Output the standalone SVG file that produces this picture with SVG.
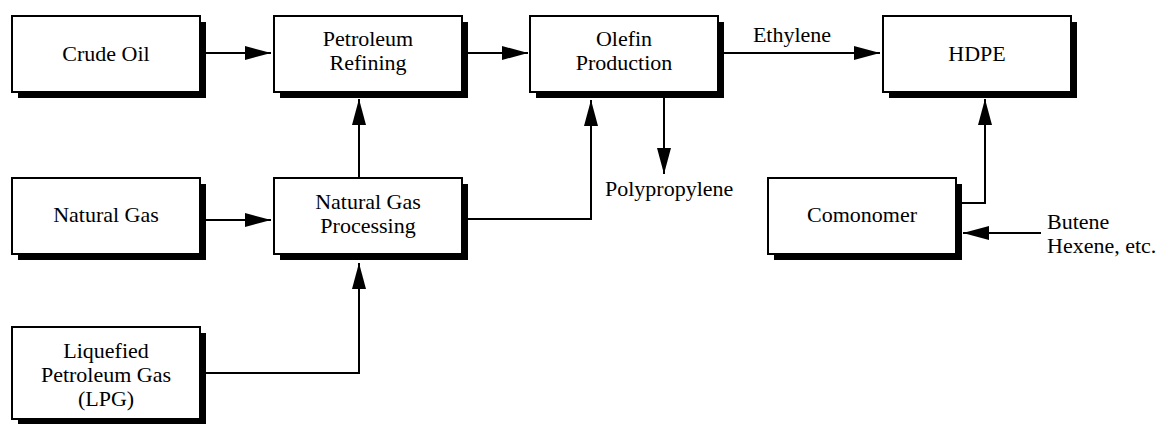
<svg xmlns="http://www.w3.org/2000/svg" width="1160" height="424" viewBox="0 0 1160 424" font-family="Liberation Serif, Times New Roman, Times, serif">
<style>
.box{fill:#fff;stroke:#000;stroke-width:2}
.sh{fill:#000}
.t{font-family:'Liberation Serif','Times New Roman',Times,serif;font-size:22px;fill:#000}
.m{text-anchor:middle}
.c{fill:none;stroke:#000;stroke-width:2}
</style>
<defs>
<marker id="ah" markerUnits="userSpaceOnUse" markerWidth="27" markerHeight="15" refX="26" refY="7" orient="auto">
<path d="M0,0 L26,7 L0,14 z" fill="#000"/>
</marker>
</defs>
<rect width="1160" height="424" fill="#fff"/>
<g id="crude-oil">
<rect class="sh" x="18" y="22" width="188" height="76"/>
<rect class="box" x="12" y="16" width="188" height="76"/>
<text class="t m" x="106" y="61">Crude Oil</text>
</g>
<g id="petroleum-refining">
<rect class="sh" x="280" y="22" width="188" height="76"/>
<rect class="box" x="274" y="16" width="188" height="76"/>
<text class="t m" x="368" y="46">Petroleum</text>
<text class="t m" x="368" y="70">Refining</text>
</g>
<g id="olefin-production">
<rect class="sh" x="536" y="22" width="188" height="76"/>
<rect class="box" x="530" y="16" width="188" height="76"/>
<text class="t m" x="624" y="46">Olefin</text>
<text class="t m" x="624" y="70">Production</text>
</g>
<g id="hdpe">
<rect class="sh" x="889" y="22" width="188" height="76"/>
<rect class="box" x="883" y="16" width="188" height="76"/>
<text class="t m" x="977" y="61">HDPE</text>
</g>
<g id="natural-gas">
<rect class="sh" x="18" y="184" width="188" height="76"/>
<rect class="box" x="12" y="178" width="188" height="76"/>
<text class="t m" x="106" y="222">Natural Gas</text>
</g>
<g id="natural-gas-processing">
<rect class="sh" x="280" y="184" width="188" height="76"/>
<rect class="box" x="274" y="178" width="188" height="76"/>
<text class="t m" x="368" y="209">Natural Gas</text>
<text class="t m" x="368" y="233">Processing</text>
</g>
<g id="comonomer">
<rect class="sh" x="774" y="184" width="188" height="76"/>
<rect class="box" x="768" y="178" width="188" height="76"/>
<text class="t m" x="862" y="222">Comonomer</text>
</g>
<g id="lpg">
<rect class="sh" x="18" y="333" width="188" height="96"/>
<rect class="box" x="12" y="327" width="188" height="92"/>
<text class="t m" x="106" y="358">Liquefied</text>
<text class="t m" x="106" y="382">Petroleum Gas</text>
<text class="t m" x="106" y="406">(LPG)</text>
</g>
<g id="labels">
<text class="t m" x="792" y="42">Ethylene</text>
<text class="t" x="605" y="196">Polypropylene</text>
<text class="t" x="1047" y="229">Butene</text>
<text class="t" x="1047" y="253">Hexene, etc.</text>
</g>
<g id="connectors">
<path class="c" d="M206,53 H271" marker-end="url(#ah)"/>
<path class="c" d="M468,53 H528" marker-end="url(#ah)"/>
<path class="c" d="M724,53 H880" marker-end="url(#ah)"/>
<path class="c" d="M206,220 H271" marker-end="url(#ah)"/>
<path class="c" d="M359,177 V99" marker-end="url(#ah)"/>
<path class="c" d="M468,219 H591 V100" marker-end="url(#ah)"/>
<path class="c" d="M664,98 V174" marker-end="url(#ah)"/>
<path class="c" d="M206,373 H359 V263" marker-end="url(#ah)"/>
<path class="c" d="M962,203 H985 V99" marker-end="url(#ah)"/>
<path class="c" d="M1041,233 H963" marker-end="url(#ah)"/>
</g>
</svg>
